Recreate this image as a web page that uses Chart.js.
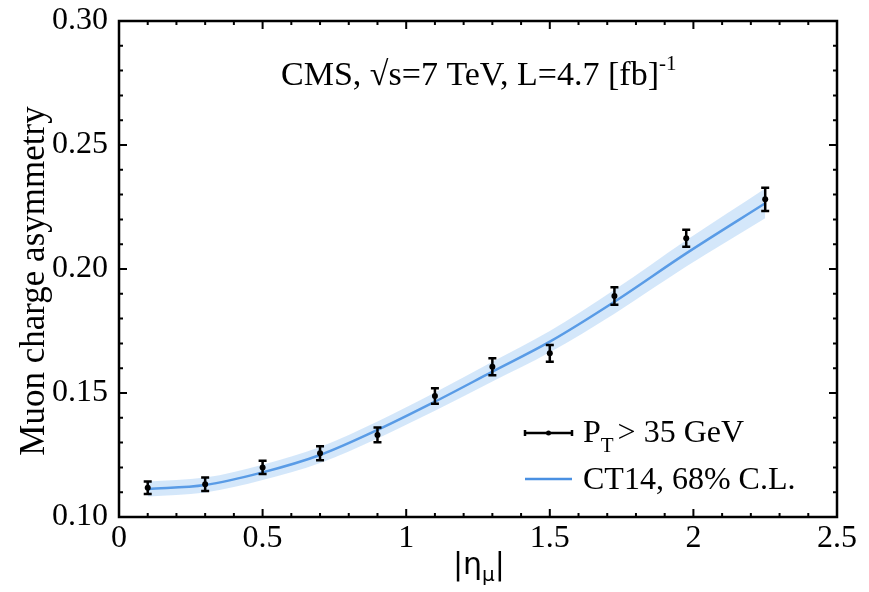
<!DOCTYPE html>
<html lang="en">

<head>
    <meta charset="UTF-8">
    <title>Muon charge asymmetry</title>
    <script src="https://cdn.jsdelivr.net/npm/chart.js@4.4.1/dist/chart.umd.min.js"></script>
    <style>
        body { margin: 0; background: #fff; }
    </style>
</head>

<body>
    <canvas id="chart" width="869" height="592"></canvas>

    <script type="text/javascript">

        // |eta| bin centres
        const etaBins = [0.1, 0.3, 0.5, 0.7, 0.9, 1.1, 1.3, 1.5, 1.725, 1.975, 2.25];

        // CMS measurement, pT > 35 GeV
        const asymData = [0.1118, 0.1132, 0.1200, 0.1257, 0.1331, 0.1488, 0.1606, 0.1660, 0.1891, 0.2124, 0.2281];
        const asymErr = [0.0025, 0.0027, 0.0027, 0.0028, 0.0030, 0.0031, 0.0034, 0.0034, 0.0035, 0.0034, 0.0047];

        // CT14 prediction and 68% band
        const ct14Central = [0.1113, 0.1129, 0.1180, 0.1250, 0.1351, 0.1465, 0.1586, 0.1707, 0.1868, 0.2063, 0.2265];
        const ct14Half = [0.0030, 0.0030, 0.0031, 0.0032, 0.0034, 0.0037, 0.0040, 0.0043, 0.0048, 0.0053, 0.0060];

        const xTicks = [0, 0.5, 1, 1.5, 2, 2.5];
        const yTicks = [0.10, 0.15, 0.20, 0.25, 0.30];

        const serif = '"Liberation Serif", "Times New Roman", serif';
        const lineBlue = 'rgb(74, 144, 226)';
        const bandBlue = 'rgba(120, 180, 240, 0.32)';

        function pts(ys) {
            return etaBins.map((x, i) => ({ x: x, y: ys[i] }));
        }

        // draw a row of text pieces, each with its own size and vertical shift
        function drawRuns(ctx, x, y, runs) {
            ctx.textAlign = 'left';
            ctx.textBaseline = 'alphabetic';
            for (const r of runs) {
                ctx.font = r.size + 'px ' + (r.family || serif);
                ctx.fillText(r.t, x, y + (r.dy || 0));
                x += ctx.measureText(r.t).width + (r.gap || 0);
            }
        }

        const frameTicks = {
            id: 'frameTicks',
            afterDatasetsDraw(chart) {
                const ctx = chart.ctx;
                const a = chart.chartArea;
                const xs = chart.scales.x, ys = chart.scales.y;

                // error bars
                ctx.save();
                ctx.strokeStyle = '#000';
                ctx.fillStyle = '#000';
                ctx.lineWidth = 2.5;
                etaBins.forEach((eta, i) => {
                    const px = xs.getPixelForValue(eta);
                    const py = ys.getPixelForValue(asymData[i]);
                    const lo = ys.getPixelForValue(asymData[i] - asymErr[i]);
                    const hi = ys.getPixelForValue(asymData[i] + asymErr[i]);
                    ctx.beginPath();
                    ctx.moveTo(px, lo); ctx.lineTo(px, hi);
                    ctx.moveTo(px - 4, lo); ctx.lineTo(px + 4, lo);
                    ctx.moveTo(px - 4, hi); ctx.lineTo(px + 4, hi);
                    ctx.stroke();
                    ctx.beginPath();
                    ctx.arc(px, py, 3, 0, Math.PI * 2);
                    ctx.fill();
                });
                ctx.restore();

                // frame
                ctx.save();
                ctx.strokeStyle = '#000';
                ctx.lineWidth = 2.5;
                ctx.strokeRect(a.left, a.top, a.right - a.left, a.bottom - a.top);

                // inward ticks on all four sides
                ctx.lineWidth = 2;
                ctx.beginPath();
                for (let k = 0; k <= 25; k++) {
                    const px = xs.getPixelForValue(k / 10);
                    const len = k % 5 === 0 ? 8 : 4;
                    ctx.moveTo(px, a.bottom); ctx.lineTo(px, a.bottom - len);
                    ctx.moveTo(px, a.top); ctx.lineTo(px, a.top + len);
                }
                for (let k = 10; k <= 30; k++) {
                    const py = ys.getPixelForValue(k / 100);
                    const len = k % 5 === 0 ? 8 : 4;
                    ctx.moveTo(a.left, py); ctx.lineTo(a.left + len, py);
                    ctx.moveTo(a.right, py); ctx.lineTo(a.right - len, py);
                }
                ctx.stroke();
                ctx.restore();
            },
            afterDraw(chart) {
                const ctx = chart.ctx;
                const a = chart.chartArea;
                ctx.save();
                ctx.fillStyle = '#000';

                // header
                drawRuns(ctx, a.left + 162, a.top + 64, [
                    { t: 'CMS, \u221As=7 TeV, L=4.7 [fb]', size: 34 },
                    { t: '-1', size: 21, dy: -15 }
                ]);

                // y axis title
                ctx.save();
                ctx.translate(44, (a.top + a.bottom) / 2 + 12);
                ctx.rotate(-Math.PI / 2);
                ctx.font = '35px ' + serif;
                ctx.textAlign = 'center';
                ctx.textBaseline = 'alphabetic';
                ctx.fillText('Muon charge asymmetry', 0, 0);
                ctx.restore();

                // x axis title
                drawRuns(ctx, 453, 574, [
                    { t: '|\u03B7', size: 30, family: '"DejaVu Sans", sans-serif' },
                    { t: '\u03BC', size: 20, dy: 7, family: '"DejaVu Sans", sans-serif' },
                    { t: '|', size: 30, family: '"DejaVu Sans", sans-serif' }
                ]);

                // legend
                const lx0 = a.right - 312, lx1 = a.right - 265;
                const ly1 = a.top + 412, ly2 = a.top + 458;
                ctx.strokeStyle = '#000';
                ctx.lineWidth = 2.5;
                ctx.beginPath();
                ctx.moveTo(lx0, ly1); ctx.lineTo(lx1, ly1);
                ctx.moveTo(lx0, ly1 - 3); ctx.lineTo(lx0, ly1 + 3);
                ctx.moveTo(lx1, ly1 - 3); ctx.lineTo(lx1, ly1 + 3);
                ctx.stroke();
                ctx.beginPath();
                ctx.arc((lx0 + lx1) / 2, ly1, 2.5, 0, Math.PI * 2);
                ctx.fill();
                drawRuns(ctx, lx1 + 11, ly1 + 9, [
                    { t: 'P', size: 32 },
                    { t: 'T', size: 21, dy: 10, gap: 4 },
                    { t: '> 35 GeV', size: 32 }
                ]);

                ctx.strokeStyle = lineBlue;
                ctx.beginPath();
                ctx.moveTo(lx0, ly2); ctx.lineTo(lx1, ly2);
                ctx.stroke();
                drawRuns(ctx, lx1 + 11, ly2 + 10, [
                    { t: 'CT14, 68% C.L.', size: 32 }
                ]);
                ctx.restore();
            }
        };

        const ctx = document.getElementById('chart').getContext('2d');
        const myChart = new Chart(ctx, {
            type: 'scatter',
            data: {
                datasets: [{
                    label: 'CT14 upper',
                    data: pts(ct14Central.map((v, i) => v + ct14Half[i])),
                    showLine: true,
                    borderWidth: 0,
                    pointRadius: 0,
                    backgroundColor: bandBlue,
                    fill: '+1',
                    cubicInterpolationMode: 'monotone'
                }, {
                    label: 'CT14 lower',
                    data: pts(ct14Central.map((v, i) => v - ct14Half[i])),
                    showLine: true,
                    borderWidth: 0,
                    pointRadius: 0,
                    fill: false,
                    cubicInterpolationMode: 'monotone'
                }, {
                    label: 'CT14, 68% C.L.',
                    data: pts(ct14Central),
                    showLine: true,
                    borderColor: lineBlue,
                    borderWidth: 2.5,
                    pointRadius: 0,
                    fill: false,
                    cubicInterpolationMode: 'monotone'
                }, {
                    label: 'PT > 35 GeV',
                    data: pts(asymData),
                    showLine: false,
                    pointRadius: 0
                }]
            },
            options: {
                responsive: false,
                animation: false,
                layout: { padding: { top: 21, right: 32, left: 0, bottom: 0 } },
                plugins: {
                    legend: { display: false },
                    tooltip: { enabled: false }
                },
                scales: {
                    x: {
                        type: 'linear',
                        min: 0,
                        max: 2.5,
                        grid: { display: false, drawTicks: false },
                        border: { display: false },
                        afterBuildTicks: (s) => { s.ticks = xTicks.map(v => ({ value: v })); },
                        afterFit: (s) => { s.height = 75; s.paddingLeft = 0; s.paddingRight = 0; },
                        ticks: {
                            color: '#000',
                            padding: 2,
                            maxRotation: 0,
                            font: { family: serif, size: 32 },
                            callback: (v) => String(Number(v.toFixed(1)))
                        }
                    },
                    y: {
                        min: 0.1,
                        max: 0.3,
                        grid: { display: false, drawTicks: false },
                        border: { display: false },
                        afterBuildTicks: (s) => { s.ticks = yTicks.map(v => ({ value: v })); },
                        afterFit: (s) => { s.width = 119; s.paddingTop = 0; s.paddingBottom = 0; },
                        ticks: {
                            color: '#000',
                            padding: 11,
                            font: { family: serif, size: 32 },
                            callback: (v) => v.toFixed(2)
                        }
                    }
                }
            },
            plugins: [frameTicks]
        });

    </script>

</body>

</html>
